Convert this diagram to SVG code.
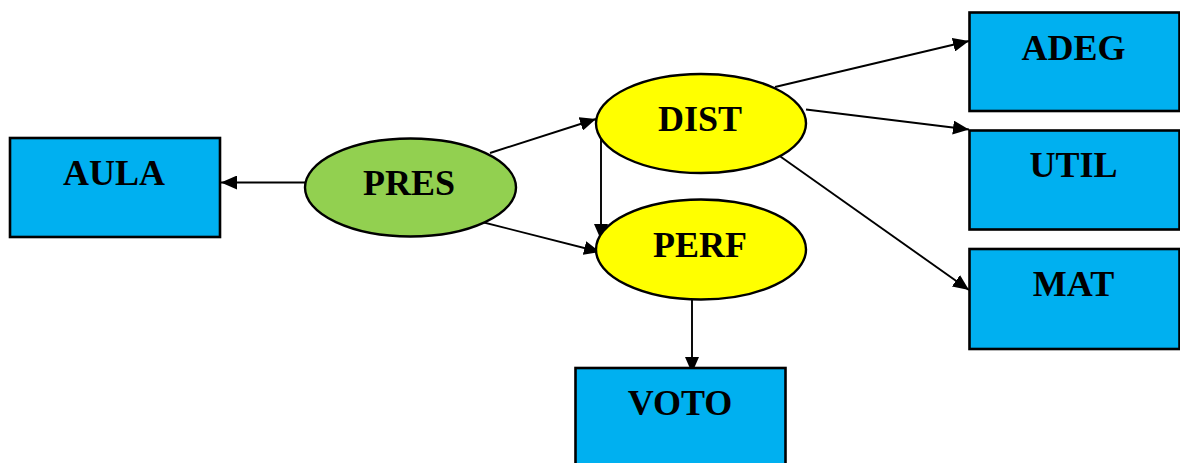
<svg xmlns="http://www.w3.org/2000/svg" width="1180" height="463" viewBox="0 0 1180 463">
<style>
.box{fill:#00B0F0;stroke:#000;stroke-width:2.6}
.ell{stroke:#000;stroke-width:2.4}
.lbl{font-family:"Liberation Serif","Times New Roman",serif;font-weight:bold;font-size:36px;fill:#000;text-anchor:middle}
.con{stroke:#000;stroke-width:1.9;fill:none;marker-end:url(#ah)}
</style>
<defs>
<marker id="ah" markerUnits="userSpaceOnUse" markerWidth="17" markerHeight="14" refX="16" refY="7" orient="auto">
<path d="M0,0 L16,7 L0,14 Z" fill="#000"/>
</marker>
</defs>
<rect width="1180" height="463" fill="#fff"/>
<g id="connectors">
<line class="con" x1="305" y1="182.5" x2="221" y2="182.5"/>
<line class="con" x1="490" y1="153" x2="596" y2="119"/>
<line class="con" x1="474" y1="220" x2="600" y2="252"/>
<line class="con" x1="601" y1="129" x2="601" y2="240"/>
<line class="con" x1="775" y1="87" x2="969" y2="41"/>
<line class="con" x1="806" y1="109.5" x2="969" y2="129.5"/>
<line class="con" x1="774" y1="152" x2="969" y2="290"/>
<line class="con" x1="692" y1="290" x2="692" y2="373"/>
</g>
<g id="AULA"><rect class="box" x="10" y="138" width="210" height="99"/><text class="lbl" x="114" y="185">AULA</text></g>
<g id="PRES"><ellipse class="ell" fill="#92D050" cx="410.5" cy="187.5" rx="105.5" ry="49"/><text class="lbl" x="409" y="195">PRES</text></g>
<g id="DIST"><ellipse class="ell" fill="#FFFF00" cx="701" cy="123.5" rx="105" ry="49.5"/><text class="lbl" x="700" y="131">DIST</text></g>
<g id="PERF"><ellipse class="ell" fill="#FFFF00" cx="701" cy="249.5" rx="105" ry="50"/><text class="lbl" x="700" y="257">PERF</text></g>
<g id="ADEG"><rect class="box" x="969.5" y="12.5" width="210" height="98.5"/><text class="lbl" x="1073.5" y="59.5">ADEG</text></g>
<g id="UTIL"><rect class="box" x="969.5" y="130.5" width="210" height="99"/><text class="lbl" x="1073.5" y="177">UTIL</text></g>
<g id="MAT"><rect class="box" x="969.5" y="249" width="210" height="100"/><text class="lbl" x="1073.5" y="296">MAT</text></g>
<g id="VOTO"><rect class="box" x="575.5" y="368" width="210" height="110"/><text class="lbl" x="680" y="414.5">VOTO</text></g>
</svg>
